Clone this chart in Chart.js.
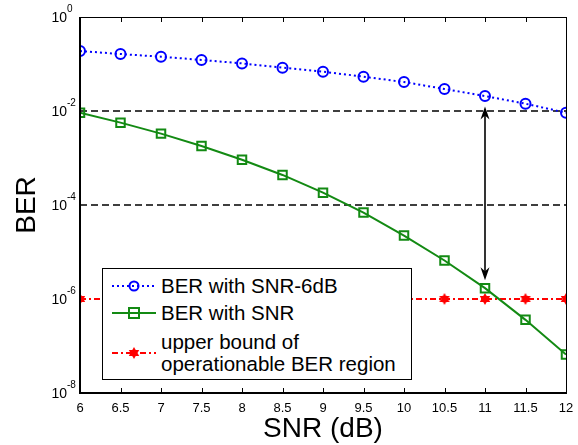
<!DOCTYPE html>
<html>
<head>
<meta charset="utf-8">
<script src="https://cdn.jsdelivr.net/npm/chart.js@4"></script>
<style>
    body { margin: 0; background: #fff; font-family: "Liberation Sans", Arial, sans-serif; }
    #wrap { position: relative; width: 578px; height: 445px; }
    #legend { position: absolute; left: 102px; top: 268px; width: 308px; height: 110px;
              border: 1px solid #000; background: #fff; font-size: 20.5px; color: #000; }
    #legend .txt { position: absolute; left: 58px; white-space: nowrap; line-height: 22px; }
    #legend svg { position: absolute; left: 8px; }
</style>
</head>
<body>
<div id="wrap">
    <canvas id="berChart" width="578" height="445"></canvas>
    <div id="legend"></div>
</div>
<script>
const snr = [6, 6.5, 7, 7.5, 8, 8.5, 9, 9.5, 10, 10.5, 11, 11.5, 12];
const berSnrMinus6 = [0.189, 0.163, 0.143, 0.122, 0.103, 0.0835, 0.0687, 0.0537, 0.0414, 0.0294, 0.0208, 0.0143, 0.0092];
const berSnr = [0.0092, 0.00565, 0.0033, 0.0018, 0.00092, 0.000436, 0.000183, 0.000069, 0.0000224, 0.0000066, 0.0000017, 0.00000036, 0.000000066];
const upperBound = [1e-6, 1e-6, 1e-6, 1e-6, 1e-6, 1e-6, 1e-6, 1e-6, 1e-6, 1e-6, 1e-6, 1e-6, 1e-6];
const refLevels = [1e-2, 1e-4];
const yTicks = [1e-8, 1e-6, 1e-4, 1e-2, 1];
const arrowX = 11;
const arrowRange = [1.25e-2, 2.5e-6];

const legendLabels = ["BER with SNR-6dB", "BER with SNR", "upper bound of", "operationable BER region"];

function pts(ys) {
    return snr.map((x, i) => ({ x: x, y: ys[i] }));
}

// six-pointed star marker
function hexagram(r, color) {
    const c = document.createElement("canvas");
    c.width = c.height = r * 2 + 2;
    const g = c.getContext("2d");
    const cx = r + 1, cy = r + 1;
    g.fillStyle = color;
    for (let t = 0; t < 2; t++) {
        g.beginPath();
        for (let k = 0; k < 3; k++) {
            const a = -Math.PI / 2 + t * Math.PI + k * 2 * Math.PI / 3;
            const px = cx + r * Math.cos(a), py = cy + r * Math.sin(a);
            if (k === 0) g.moveTo(px, py); else g.lineTo(px, py);
        }
        g.closePath();
        g.fill();
    }
    return c;
}
const starImg = hexagram(6, "#ff0000");

const framePlugin = {
    id: "frame",
    afterDatasetsDraw(chart) {
        const { ctx, chartArea: a, scales } = chart;
        ctx.save();
        // inward x ticks top and bottom
        ctx.strokeStyle = "#000";
        ctx.lineWidth = 1;
        scales.x.ticks.forEach(t => {
            const px = Math.round(scales.x.getPixelForValue(t.value)) + 0.5;
            ctx.beginPath();
            ctx.moveTo(px, a.bottom); ctx.lineTo(px, a.bottom - 5);
            ctx.moveTo(px, a.top); ctx.lineTo(px, a.top + 5);
            ctx.stroke();
        });
        // box
        ctx.strokeRect(a.left + 0.5, a.top + 0.5, a.right - a.left, a.bottom - a.top);
        ctx.lineWidth = 2;
        ctx.beginPath();
        ctx.moveTo(a.left, a.top); ctx.lineTo(a.left, a.bottom); ctx.lineTo(a.right, a.bottom);
        ctx.stroke();
        // y labels as 10 with exponent
        ctx.fillStyle = "#000";
        ctx.textBaseline = "middle";
        yTicks.forEach(v => {
            const py = scales.y.getPixelForValue(v);
            const e = Math.round(Math.log10(v));
            ctx.font = "14px 'Liberation Sans'";
            ctx.textAlign = "right";
            ctx.fillText("10", a.left - 13, py + 1);
            ctx.font = "10px 'Liberation Sans'";
            ctx.textAlign = "left";
            ctx.fillText(e === 0 ? "0" : "-" + Math.abs(e), a.left - 13, py - 8);
        });
        // double arrow
        const ax = scales.x.getPixelForValue(arrowX);
        const y1 = scales.y.getPixelForValue(arrowRange[0]);
        const y2 = scales.y.getPixelForValue(arrowRange[1]);
        ctx.lineWidth = 1.6;
        ctx.beginPath();
        ctx.moveTo(ax, y1 + 6); ctx.lineTo(ax, y2 - 6);
        ctx.stroke();
        ctx.beginPath();
        ctx.moveTo(ax, y1); ctx.lineTo(ax - 4.5, y1 + 13); ctx.lineTo(ax, y1 + 9); ctx.lineTo(ax + 4.5, y1 + 13);
        ctx.closePath(); ctx.fill();
        ctx.beginPath();
        ctx.moveTo(ax, y2); ctx.lineTo(ax - 4.5, y2 - 13); ctx.lineTo(ax, y2 - 9); ctx.lineTo(ax + 4.5, y2 - 13);
        ctx.closePath(); ctx.fill();
        ctx.restore();
    }
};

document.addEventListener("DOMContentLoaded", function () {
    const ctx = document.getElementById("berChart");
    const refSets = refLevels.map(v => ({
        data: [{ x: snr[0], y: v }, { x: snr[snr.length - 1], y: v }],
        borderColor: "#000",
        borderWidth: 1.3,
        borderDash: [7, 4],
        pointRadius: 0,
        order: 5,
    }));
    const config = {
        type: "line",
        data: {
            datasets: [
                {
                    label: legendLabels[0],
                    data: pts(berSnrMinus6),
                    borderColor: "#0000ff",
                    borderWidth: 2,
                    borderDash: [2, 3],
                    pointStyle: "circle",
                    pointRadius: 5,
                    pointBorderWidth: 2,
                    pointBackgroundColor: "rgba(0,0,0,0)",
                    pointBorderColor: "#0000ff",
                    order: 1,
                },
                {
                    label: legendLabels[1],
                    data: pts(berSnr),
                    borderColor: "#138a13",
                    borderWidth: 2,
                    pointStyle: "rect",
                    pointRadius: 6,
                    pointBorderWidth: 2,
                    pointBackgroundColor: "rgba(0,0,0,0)",
                    pointBorderColor: "#138a13",
                    order: 2,
                },
                {
                    label: legendLabels[2] + " " + legendLabels[3],
                    data: pts(upperBound),
                    borderColor: "#ff0000",
                    borderWidth: 2,
                    borderDash: [6, 3, 2, 3],
                    pointStyle: starImg,
                    order: 3,
                },
                ...refSets,
            ],
        },
        options: {
            responsive: false,
            animation: false,
            layout: { padding: { top: 17, right: 12, left: 0, bottom: 0 } },
            plugins: {
                legend: { display: false },
                tooltip: { enabled: false },
            },
            scales: {
                x: {
                    type: "linear",
                    min: 6,
                    max: 12,
                    ticks: {
                        stepSize: 0.5,
                        color: "#000",
                        padding: 0,
                        font: { family: "Liberation Sans", size: 13 },
                        callback: v => String(v),
                    },
                    grid: { display: false },
                    border: { display: false },
                    title: {
                        display: true,
                        text: "SNR (dB)",
                        color: "#000",
                        padding: { top: 0, bottom: 2 },
                        font: { family: "Liberation Sans", size: 28, lineHeight: 1 },
                    },
                    afterFit: s => { s.height = 52; },
                },
                y: {
                    type: "logarithmic",
                    min: 1e-8,
                    max: 1,
                    afterBuildTicks: s => { s.ticks = yTicks.map(v => ({ value: v })); },
                    ticks: { display: false },
                    grid: { display: false },
                    border: { display: false },
                    title: {
                        display: true,
                        text: "BER",
                        color: "#000",
                        padding: { top: 10 },
                        font: { family: "Liberation Sans", size: 28 },
                    },
                    afterFit: s => { s.width = 80; },
                },
            },
        },
        plugins: [framePlugin],
    };
    new Chart(ctx, config);
    buildLegend(config.data.datasets);
});

function buildLegend(ds) {
    const box = document.getElementById("legend");
    const rows = [17, 44, 84];
    const texts = [[legendLabels[0]], [legendLabels[1]], [legendLabels[2], legendLabels[3]]];
    const marks = [
        '<circle cx="23" cy="8" r="4.5" fill="none" stroke="#0000ff" stroke-width="2"/>',
        '<rect x="18" y="3" width="10" height="10" fill="none" stroke="#138a13" stroke-width="2"/>',
        '<polygon points="23,2 28.2,11 17.8,11" fill="#ff0000"/><polygon points="23,14 28.2,5 17.8,5" fill="#ff0000"/>',
    ];
    for (let i = 0; i < 3; i++) {
        const d = ds[i];
        const dash = d.borderDash ? d.borderDash.join(",") : "none";
        const svg = '<svg width="46" height="16" style="top:' + (rows[i] - 8) + 'px">' +
            '<line x1="1" y1="8" x2="45" y2="8" stroke="' + d.borderColor + '" stroke-width="2" stroke-dasharray="' + dash + '"/>' +
            marks[i] + '</svg>';
        box.insertAdjacentHTML("beforeend", svg);
        const top = rows[i] - 11 * texts[i].length;
        box.insertAdjacentHTML("beforeend", '<div class="txt" style="top:' + top + 'px">' + texts[i].join("<br>") + '</div>');
    }
}
</script>
</body>
</html>
